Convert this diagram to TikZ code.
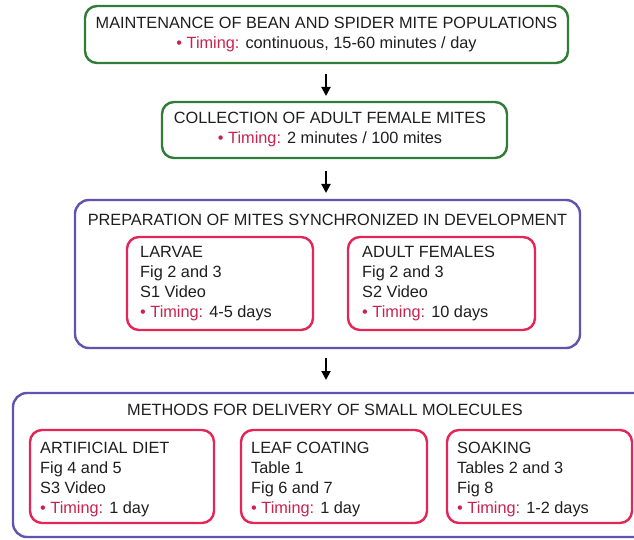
\documentclass[tikz,border=0pt]{standalone}
\usepackage{fontspec}
\setmainfont{Liberation Sans}
\usetikzlibrary{arrows.meta}
\definecolor{gbox}{HTML}{2F7D36}
\definecolor{pbox}{HTML}{6352B0}
\definecolor{rbox}{HTML}{E32657}
\definecolor{timc}{HTML}{C8234E}
\definecolor{txtc}{HTML}{1E1E1E}
\newcommand\tmg{{\color{timc}\textbullet\ Timing:} }
\tikzset{
  greenbox/.style={draw=gbox, line width=2.4pt, rounded corners=12pt, inner sep=0pt},
  purplebox/.style={draw=pbox, line width=2.4pt, rounded corners=14pt, inner sep=0pt},
  redbox/.style={draw=rbox, line width=2.4pt, rounded corners=12pt, inner sep=0pt},
  txt/.style={inner sep=0pt, text=txtc, font=\fontsize{16.3}{20}\selectfont},
  ltxt/.style={txt, anchor=base west},
  ctxt/.style={txt, anchor=base},
  arr/.style={line width=2pt, -{Triangle[length=9pt,width=9pt]}, black}
}
\begin{document}
\begin{tikzpicture}[x=1pt,y=-1pt]
\useasboundingbox (0,0) rectangle (634,540);
% box 1
\node[greenbox, minimum width=483pt, minimum height=57pt] (b1) at (326.5,34.5) {};
\node[ctxt] (t1a) at (326.5,28.8) {MAINTENANCE OF BEAN AND SPIDER MITE POPULATIONS};
\node[ctxt] (t1b) at (326.5,48.8) {\tmg continuous, 15-60 minutes / day};
% box 2
\node[greenbox, minimum width=345pt, minimum height=56pt] (b2) at (334.5,130) {};
\node[ctxt] (t2a) at (330,123.8) {COLLECTION OF ADULT FEMALE MITES};
\node[ctxt] (t2b) at (330,143.8) {\tmg 2 minutes / 100 mites};
% box 3
\node[purplebox, minimum width=505pt, minimum height=148pt] (b3) at (327.5,274) {};
\node[ctxt] (t3) at (327.5,225.8) {PREPARATION OF MITES SYNCHRONIZED IN DEVELOPMENT};
\node[redbox, minimum width=186pt, minimum height=93pt] (lv) at (220,283.5) {};
\node[ltxt] (lv1) at (140,257.8) {LARVAE};
\node[ltxt] (lv2) at (140,277.8) {Fig 2 and 3};
\node[ltxt] (lv3) at (140,297.8) {S1 Video};
\node[ltxt] (lv4) at (140,317.8) {\tmg 4-5 days};
\node[redbox, minimum width=187pt, minimum height=93pt] (af) at (441.5,283.5) {};
\node[ltxt] (af1) at (362,257.8) {ADULT FEMALES};
\node[ltxt] (af2) at (362,277.8) {Fig 2 and 3};
\node[ltxt] (af3) at (362,297.8) {S2 Video};
\node[ltxt] (af4) at (362,317.8) {\tmg 10 days};
% box 4
\node[purplebox, minimum width=660pt, minimum height=144pt] (b4) at (343,465) {};
\node[ctxt] (t4) at (325,415.8) {METHODS FOR DELIVERY OF SMALL MOLECULES};
\node[redbox, minimum width=184pt, minimum height=93pt] (ad) at (122,476.5) {};
\node[ltxt] (ad1) at (40,453.8) {ARTIFICIAL DIET};
\node[ltxt] (ad2) at (40,473.8) {Fig 4 and 5};
\node[ltxt] (ad3) at (40,493.8) {S3 Video};
\node[ltxt] (ad4) at (40,513.8) {\tmg 1 day};
\node[redbox, minimum width=186pt, minimum height=93pt] (lc) at (334,476.5) {};
\node[ltxt] (lc1) at (251,453.8) {LEAF COATING};
\node[ltxt] (lc2) at (251,473.8) {Table 1};
\node[ltxt] (lc3) at (251,493.8) {Fig 6 and 7};
\node[ltxt] (lc4) at (251,513.8) {\tmg 1 day};
\node[redbox, minimum width=185pt, minimum height=93pt] (sk) at (539.5,476.5) {};
\node[ltxt] (sk1) at (457,453.8) {SOAKING};
\node[ltxt] (sk2) at (457,473.8) {Tables 2 and 3};
\node[ltxt] (sk3) at (457,493.8) {Fig 8};
\node[ltxt] (sk4) at (457,513.8) {\tmg 1-2 days};
% arrows
\coordinate (a1s) at (326,74); \coordinate (a1e) at (326,96);
\coordinate (a2s) at (326,171); \coordinate (a2e) at (326,193);
\coordinate (a3s) at (326,358); \coordinate (a3e) at (326,380);
\draw[arr] (a1s) -- (a1e);
\draw[arr] (a2s) -- (a2e);
\draw[arr] (a3s) -- (a3e);
\end{tikzpicture}
\end{document}
